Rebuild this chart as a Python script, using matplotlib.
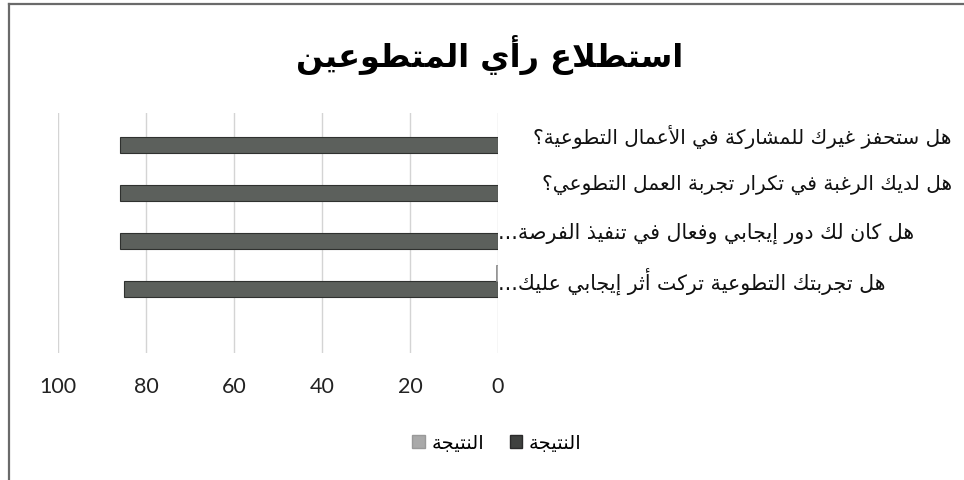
import numpy as np
import matplotlib
matplotlib.use("Agg")
import matplotlib.pyplot as plt
from matplotlib.patches import Patch
from matplotlib.lines import Line2D

# ---------------- data ----------------
title = "استطلاع رأي المتطوعين"
categories = [
    "هل ستحفز غيرك للمشاركة في الأعمال التطوعية؟",
    "هل لديك الرغبة في تكرار تجربة العمل التطوعي؟",
    "هل كان لك دور إيجابي وفعال في تنفيذ الفرصة...",
    "هل تجربتك التطوعية تركت أثر إيجابي عليك...",
]
series_names = ["النتيجة", "النتيجة"]
dark_values = [86, 86, 86, 85]
light_values = [0, 0, 0, 0.4]
xticks = [0, 20, 40, 60, 80, 100]

# ---------------- minimal Arabic shaping ----------------
_F = {}
for ch, start, n in [
    (0x0621, 0xFE80, 1), (0x0622, 0xFE81, 2), (0x0623, 0xFE83, 2), (0x0624, 0xFE85, 2),
    (0x0625, 0xFE87, 2), (0x0626, 0xFE89, 4), (0x0627, 0xFE8D, 2), (0x0628, 0xFE8F, 4),
    (0x0629, 0xFE93, 2), (0x062A, 0xFE95, 4), (0x062B, 0xFE99, 4), (0x062C, 0xFE9D, 4),
    (0x062D, 0xFEA1, 4), (0x062E, 0xFEA5, 4), (0x062F, 0xFEA9, 2), (0x0630, 0xFEAB, 2),
    (0x0631, 0xFEAD, 2), (0x0632, 0xFEAF, 2), (0x0633, 0xFEB1, 4), (0x0634, 0xFEB5, 4),
    (0x0635, 0xFEB9, 4), (0x0636, 0xFEBD, 4), (0x0637, 0xFEC1, 4), (0x0638, 0xFEC5, 4),
    (0x0639, 0xFEC9, 4), (0x063A, 0xFECD, 4), (0x0641, 0xFED1, 4), (0x0642, 0xFED5, 4),
    (0x0643, 0xFED9, 4), (0x0644, 0xFEDD, 4), (0x0645, 0xFEE1, 4), (0x0646, 0xFEE5, 4),
    (0x0647, 0xFEE9, 4), (0x0648, 0xFEED, 2), (0x0649, 0xFEEF, 2), (0x064A, 0xFEF1, 4),
]:
    _F[chr(ch)] = (start, n)
_LAMALEF = {"\u0622": 0xFEF5, "\u0623": 0xFEF7, "\u0625": 0xFEF9, "\u0627": 0xFEFB}


def _nf(c):
    return _F[c][1] if c in _F else 0


def ar(s):
    out = []
    i = 0
    while i < len(s):
        c = s[i]
        if c not in _F:
            out.append(c)
            i += 1
            continue
        prev_j = i > 0 and _nf(s[i - 1]) == 4
        if c == "\u0644" and i + 1 < len(s) and s[i + 1] in _LAMALEF:
            out.append(chr(_LAMALEF[s[i + 1]] + (1 if prev_j else 0)))
            i += 2
            continue
        start, n = _F[c]
        next_j = n == 4 and i + 1 < len(s) and _nf(s[i + 1]) >= 2
        if n == 1:
            f = start
        elif prev_j and next_j:
            f = start + 3
        elif prev_j:
            f = start + 1
        elif next_j:
            f = start + 2
        else:
            f = start
        out.append(chr(f))
        i += 1
    return "".join(reversed(out))


# ---------------- figure ----------------
W, H = 964, 480
fig = plt.figure(figsize=(W / 100, H / 100), dpi=100)
fig.patch.set_facecolor("white")

AFONT = ["DejaVu Sans"]

# frame
fig.add_artist(Line2D([9 / W, 9 / W], [0, 1 - 4 / H], color="#6a6a6a", lw=1.6))
fig.add_artist(Line2D([9 / W, 1], [1 - 4 / H, 1 - 4 / H], color="#6a6a6a", lw=1.6))

ax = fig.add_axes([58 / W, 1 - 353 / H, 440 / W, 240 / H])
y = np.arange(len(categories))
h = 0.33
ax.barh(y + 0.165, dark_values, height=h, color="#5c605c", edgecolor="#2f312f",
        linewidth=0.8, zorder=3)
ax.barh(y - 0.165, light_values, height=h, color="#a9a9a9", edgecolor="#8a8a8a",
        linewidth=0.6, zorder=3)

ax.set_xlim(100, 0)
ax.set_ylim(len(categories) + 0.5, -0.5)
ax.set_xticks(xticks)
ax.set_xticklabels([str(t) for t in xticks], family="Lato", fontsize=15.5, color="#222222")
ax.set_yticks([])
ax.tick_params(axis="x", length=0, pad=17)
ax.grid(axis="x", color="#d4d4d4", lw=1.0, zorder=0)
for s in ax.spines.values():
    s.set_visible(False)

# category labels (right of the axis, RTL; truncated ones start at the axis)
right_edge = 1 + (952 - 498) / 440
for yi, lab in zip(y, categories):
    if lab.endswith("..."):
        ax.text(1.0, yi, ar(lab), transform=ax.get_yaxis_transform(), ha="left",
                va="center", family=AFONT, fontsize=14.8, color="#111111")
    else:
        ax.text(right_edge, yi, ar(lab), transform=ax.get_yaxis_transform(),
                ha="right", va="center", family=AFONT, fontsize=14.5, color="#111111")

fig.text(490 / W, 1 - 55 / H, ar(title), ha="center", va="center", family=AFONT,
         fontsize=23, fontweight="bold", color="#000000")

handles = [Patch(facecolor="#a9a9a9", edgecolor="#999999"),
           Patch(facecolor="#3f413f", edgecolor="#2a2a2a")]
leg = fig.legend(handles, [ar(series_names[1]), ar(series_names[0])], ncol=2,
                 loc="center", bbox_to_anchor=(497 / W, 1 - 443 / H), frameon=False,
                 handlelength=0.65, handleheight=0.65, handletextpad=0.35,
                 columnspacing=1.3, prop={"family": AFONT, "size": 14})

fig.savefig("out.png", dpi=100, facecolor="white")
